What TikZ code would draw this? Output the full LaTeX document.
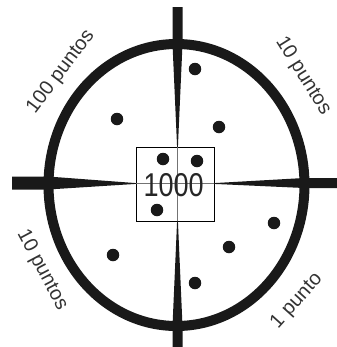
\documentclass[tikz,border=0pt]{standalone}
\usepackage{fontspec}
\setmainfont{Liberation Sans}
\begin{document}
\begin{tikzpicture}[x=1bp,y=-1bp,
  ink/.style={fill=black!90},
  dot/.style={circle,fill=black!90,inner sep=0pt,minimum size=12.5bp},
  lbl/.style={font=\fontsize{20bp}{20bp}\selectfont, text=black!80, inner sep=0pt},
  hair/.style={draw=black!55, line width=0.4bp}]
\useasboundingbox (0,0) rectangle (337,347);
% ring
\draw[line width=10bp, black!90] (176.5,185) ellipse [x radius=128, y radius=141];
% box
\node[draw, line width=0.9bp, minimum width=78bp, minimum height=74bp, inner sep=0pt] (box) at (175,184) {};
% hairlines through the box
\draw[hair] (box.north -| 177.5,0) -- (box.south -| 177.5,0);
\draw[hair] (box.west |- 0,183.5) -- (box.east |- 0,183.5);
% arms
\fill[ink] (172.5,7) -- (182.5,7) -- (182.5,44) -- (177.9,147) -- (177.1,147) -- (172.5,44) -- cycle;
\fill[ink] (172.5,347) -- (182.5,347) -- (182.5,326) -- (177.9,221) -- (177.1,221) -- (172.5,326) -- cycle;
\fill[ink] (12,176.5) -- (12,189.5) -- (48,189.5) -- (136,183.9) -- (136,183.1) -- (48,176.5) -- cycle;
\fill[ink] (337,178) -- (337,188) -- (304,188) -- (214,183.9) -- (214,183.1) -- (304,178) -- cycle;
% number
\node[font=\fontsize{33bp}{33bp}\selectfont, xscale=0.82, text=black!85, inner sep=0pt] (num) at (173.7,185.5) {1000};
% dots
\node[dot] (d1) at (195,69) {};
\node[dot] (d2) at (117,119) {};
\node[dot] (d3) at (219,127) {};
\node[dot] (d4) at (163,159) {};
\node[dot] (d5) at (197,161) {};
\node[dot] (d6) at (157,210) {};
\node[dot] (d7) at (274,223) {};
\node[dot] (d8) at (229,247) {};
\node[dot] (d9) at (113,255) {};
\node[dot] (d10) at (195,283) {};
% labels
\node[lbl, rotate=53] (l1) at (61,72) {100 puntos};
\node[lbl, rotate=-58] (l2) at (303,76) {10 puntos};
\node[lbl, rotate=-62] (l3) at (42,270) {10 puntos};
\node[lbl, rotate=48] (l4) at (297,301) {1 punto};
\end{tikzpicture}
\end{document}
